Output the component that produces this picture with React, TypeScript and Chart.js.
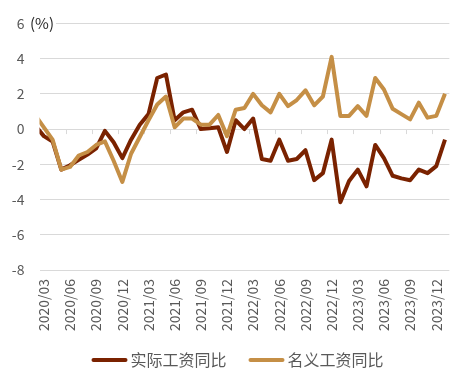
import React, { useEffect, useRef } from 'react';
import { Chart, registerables } from 'chart.js';

Chart.register(...registerables);

// Monthly categories (2020/02 lies just left of the visible range and is clipped)
const months = [
  '2020/02', '2020/03', '2020/04', '2020/05', '2020/06', '2020/07', '2020/08', '2020/09', '2020/10', '2020/11', '2020/12',
  '2021/01', '2021/02', '2021/03', '2021/04', '2021/05', '2021/06', '2021/07', '2021/08', '2021/09', '2021/10', '2021/11', '2021/12',
  '2022/01', '2022/02', '2022/03', '2022/04', '2022/05', '2022/06', '2022/07', '2022/08', '2022/09', '2022/10', '2022/11', '2022/12',
  '2023/01', '2023/02', '2023/03', '2023/04', '2023/05', '2023/06', '2023/07', '2023/08', '2023/09', '2023/10', '2023/11', '2023/12',
  '2024/01',
];

// Real wage YoY (%)
const realWage = [
  0.2, -0.4, -0.7, -2.3, -2.05, -1.75, -1.45, -1.1, -0.1, -0.75, -1.65,
  -0.6, 0.25, 0.85, 2.9, 3.1, 0.5, 0.95, 1.1, 0.0, 0.05, 0.1, -1.3,
  0.5, 0.0, 0.6, -1.7, -1.8, -0.6, -1.8, -1.7, -1.2, -2.9, -2.5, -0.6,
  -4.15, -2.95, -2.3, -3.25, -0.9, -1.65, -2.65, -2.8, -2.9, -2.3, -2.5, -2.1,
  -0.6,
];

// Nominal wage YoY (%)
const nominalWage = [
  0.8, 0.1, -0.6, -2.3, -2.15, -1.5, -1.3, -0.9, -0.7, -1.8, -3.0,
  -1.4, -0.45, 0.5, 1.4, 1.85, 0.1, 0.6, 0.6, 0.25, 0.25, 0.8, -0.4,
  1.1, 1.2, 2.0, 1.35, 0.95, 2.0, 1.3, 1.65, 2.2, 1.35, 1.85, 4.1,
  0.75, 0.75, 1.3, 0.75, 2.9, 2.25, 1.15, 0.85, 0.55, 1.5, 0.65, 0.75,
  2.0,
];

const seriesNames = ['实际工资同比', '名义工资同比'];
const seriesColors = ['#7A2200', '#C58F46'];
const yMin = -8;
const yMax = 6;
const yStep = 2;
const unitLabel = '(%)';
const firstVisible = '2020/03';
const labelEvery = 3;

const FONT = '"Noto Sans CJK SC", "Noto Sans", sans-serif';

const zeroTicksPlugin = {
  id: 'zeroTicks',
  beforeDatasetsDraw(chart: any) {
    const { ctx, scales } = chart;
    const x = scales.x;
    const y = scales.y;
    const y0 = y.getPixelForValue(0);
    const start = months.indexOf(firstVisible);
    ctx.save();
    ctx.strokeStyle = '#d9d9d9';
    ctx.lineWidth = 1;
    for (let i = start + labelEvery; i < months.length; i += labelEvery) {
      const px = Math.round(x.getPixelForValue(i - 0.5)) + 0.5;
      ctx.beginPath();
      ctx.moveTo(px, y0);
      ctx.lineTo(px, y0 + 5);
      ctx.stroke();
    }
    ctx.restore();
  },
};

const extrasPlugin = {
  id: 'extras',
  afterDraw(chart: any) {
    const { ctx, scales } = chart;
    const y = scales.y;
    const yTop = y.getPixelForValue(yMax);
    ctx.save();
    // unit label next to the top tick
    ctx.font = '15px ' + FONT;
    const uw = ctx.measureText(unitLabel).width;
    ctx.fillStyle = '#ffffff';
    ctx.fillRect(29, yTop - 9, uw + 3, 18);
    ctx.fillStyle = '#262626';
    ctx.textBaseline = 'middle';
    ctx.textAlign = 'left';
    ctx.fillText(unitLabel, 30, yTop);

    // legend
    ctx.font = '16px ' + FONT;
    const lineLen = 36;
    const gap = 3;
    const itemGap = 22;
    const widths = seriesNames.map((n) => lineLen + gap + ctx.measureText(n).width);
    const total = widths.reduce((a, b) => a + b, 0) + itemGap * (seriesNames.length - 1);
    let lx = chart.width / 2 + 2 - total / 2;
    const ly = 360;
    seriesNames.forEach((name, i) => {
      ctx.strokeStyle = seriesColors[i];
      ctx.lineWidth = 4;
      ctx.lineCap = 'round';
      ctx.beginPath();
      ctx.moveTo(lx + 2, ly);
      ctx.lineTo(lx + lineLen - 2, ly);
      ctx.stroke();
      ctx.fillStyle = '#595959';
      ctx.fillText(name, lx + lineLen + gap, ly);
      lx += widths[i] + itemGap;
    });
    ctx.restore();
  },
};

export default function App() {
  const canvasRef = useRef<HTMLCanvasElement | null>(null);

  useEffect(() => {
    document.body.style.margin = '0';
    const canvas = canvasRef.current;
    if (!canvas) return;
    const chart = new Chart(canvas, {
      type: 'line',
      data: {
        labels: months,
        datasets: [
          {
            label: seriesNames[0],
            data: realWage,
            borderColor: seriesColors[0],
            backgroundColor: seriesColors[0],
            borderWidth: 4,
            pointRadius: 0,
            borderJoinStyle: 'round',
            tension: 0,
            clip: 0,
            order: 1,
          },
          {
            label: seriesNames[1],
            data: nominalWage,
            borderColor: seriesColors[1],
            backgroundColor: seriesColors[1],
            borderWidth: 4,
            pointRadius: 0,
            borderJoinStyle: 'round',
            tension: 0,
            clip: 0,
            order: 0,
          },
        ],
      },
      options: {
        responsive: false,
        animation: false,
        devicePixelRatio: 1,
        layout: { padding: { left: 0, right: 20, top: 19, bottom: 49 } },
        plugins: {
          legend: { display: false },
          tooltip: { enabled: false },
        },
        scales: {
          x: {
            type: 'category',
            min: firstVisible,
            offset: true,
            grid: { display: false, drawTicks: false },
            border: { display: false },
            ticks: {
              autoSkip: false,
              maxRotation: 90,
              minRotation: 90,
              padding: 9,
              color: '#595959',
              font: { family: FONT, size: 14 },
              callback: (value: any) => {
                const i = Number(value);
                const start = months.indexOf(firstVisible);
                return (i - start) % labelEvery === 0 ? months[i] : '';
              },
            },
            afterFit: (scale: any) => {
              scale.height = 65;
            },
          },
          y: {
            min: yMin,
            max: yMax,
            grid: { color: '#d9d9d9', lineWidth: 1, drawTicks: false },
            border: { display: false },
            ticks: {
              stepSize: yStep,
              padding: 15,
              color: '#595959',
              font: { family: FONT, size: 14 },
            },
            afterFit: (scale: any) => {
              scale.width = 39.5;
            },
          },
        },
      },
      plugins: [zeroTicksPlugin, extrasPlugin],
    });
    return () => chart.destroy();
  }, []);

  return (
    <div style={{ width: 471, height: 384, background: '#ffffff' }}>
      <canvas ref={canvasRef} width={471} height={384} />
    </div>
  );
}
